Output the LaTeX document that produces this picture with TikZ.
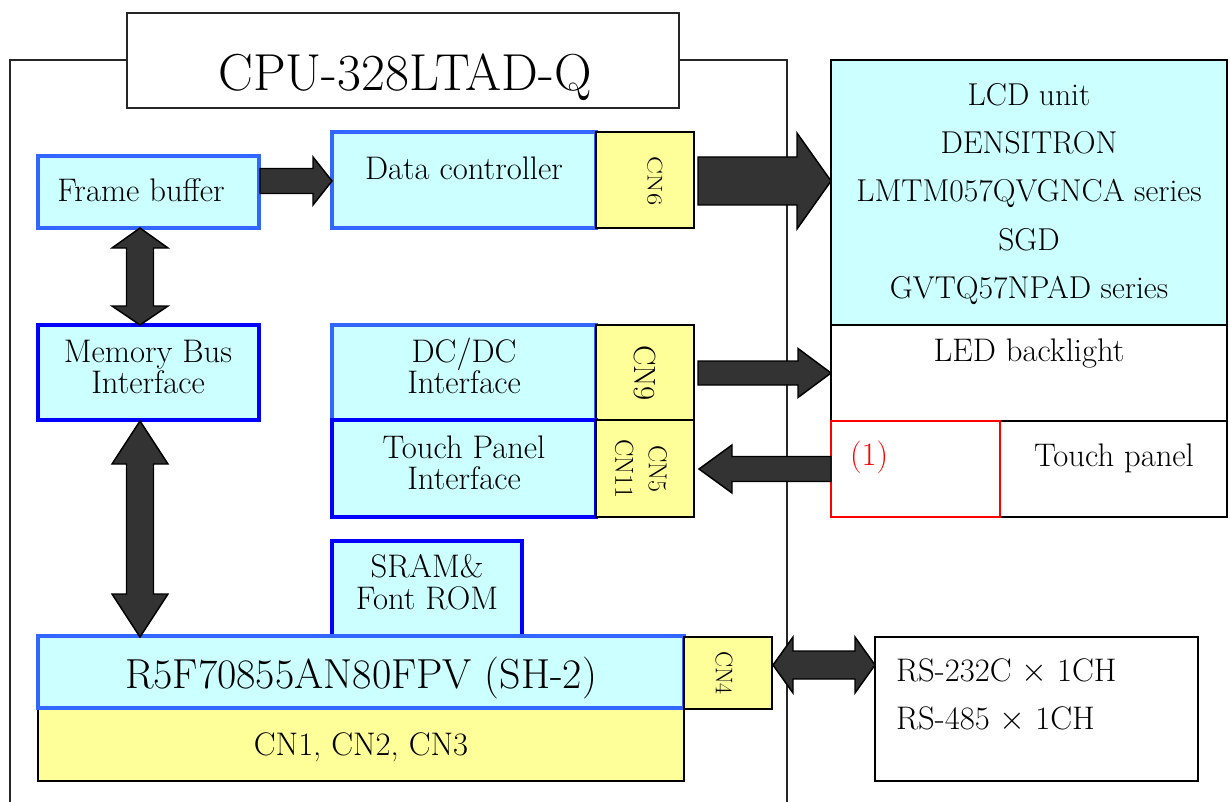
\documentclass[tikz,border=0pt]{standalone}
\usetikzlibrary{fit}
\definecolor{cyanfill}{HTML}{CCFFFF}
\definecolor{yelfill}{HTML}{FFFF99}
\definecolor{lblue}{HTML}{3366FF}
\definecolor{dblue}{HTML}{0000FF}
\definecolor{arrfill}{HTML}{333333}
\definecolor{framecol}{HTML}{262626}
\newcommand\rarr[6]{\draw[blk] (#1,#3-#4) -- (#2-#6,#3-#4) -- (#2-#6,#3-#5) -- (#2,#3) -- (#2-#6,#3+#5) -- (#2-#6,#3+#4) -- (#1,#3+#4) -- cycle;}
\newcommand\larr[6]{\draw[blk] (#2,#3-#4) -- (#1+#6,#3-#4) -- (#1+#6,#3-#5) -- (#1,#3) -- (#1+#6,#3+#5) -- (#1+#6,#3+#4) -- (#2,#3+#4) -- cycle;}
\newcommand\hdarr[6]{\draw[blk] (#1,#3) -- (#1+#6,#3-#5) -- (#1+#6,#3-#4) -- (#2-#6,#3-#4) -- (#2-#6,#3-#5) -- (#2,#3) -- (#2-#6,#3+#5) -- (#2-#6,#3+#4) -- (#1+#6,#3+#4) -- (#1+#6,#3+#5) -- cycle;}
% vertical double arrow: #1 x, #2 top, #3 bottom, #4 shaft half, #5 head half, #6 head len top, #7 head len bottom
\newcommand\vdarr[7]{\draw[blk] (#1,#2) -- (#1+#5,#2+#6) -- (#1+#4,#2+#6) -- (#1+#4,#3-#7) -- (#1+#5,#3-#7) -- (#1,#3) -- (#1-#5,#3-#7) -- (#1-#4,#3-#7) -- (#1-#4,#2+#6) -- (#1-#5,#2+#6) -- cycle;}
\begin{document}
\begin{tikzpicture}[x=0.75pt,y=-0.75pt,
  every node/.style={inner sep=0pt, outer sep=0pt},
  body/.style={font=\fontsize{24.5}{26}\selectfont, anchor=base},
  lcdt/.style={font=\fontsize{23.7}{26}\selectfont, anchor=base},
  cbox/.style={draw=lblue, fill=cyanfill, line width=2.6pt},
  cboxd/.style={draw=dblue, fill=cyanfill, line width=2.6pt},
  ybox/.style={draw=black, fill=yelfill, line width=1.1pt},
  wbox/.style={draw=black, fill=white, line width=1.3pt},
  blk/.style={draw=black, fill=arrfill, line width=1.1pt, line join=miter},
  cnlab/.style={rotate=-90, anchor=center, align=center},
  framel/.style={draw=framecol, line width=1.4pt}
]
\useasboundingbox (0,0) rectangle (1230,802);
% CPU board outline
\draw[framel] (127,60) -- (10,60) -- (10,805);
\draw[framel] (679,60) -- (787,60) -- (787,805);
\node[draw=framecol, fill=white, line width=1.4pt, fit={(127,13)(679,108)}] (title) {};
\node[font=\fontsize{39}{42}\selectfont, anchor=base] (titletxt) at (405,91) {CPU-328LTAD-Q};

% left column
\node[cbox, fit={(38,156)(259,228)}] (fb) {};
\node[body] at (141,202) {Frame buffer};
\node[cboxd, fit={(38,325)(259,420)}] (mb) {};
\node[body] at (148,362) {Memory Bus};
\node[body] at (148,393) {Interface};

% data controller + CN6
\node[cbox, fit={(332,132)(596,228)}] (dc) {};
\node[body] at (464,180) {Data controller};
\node[ybox, fit={(596,132)(694,228)}] (cn6) {};
\node[cnlab, font=\fontsize{20}{22}\selectfont] at (655,181) {\scalebox{1}[0.8]{CN6}};

% DC/DC + CN9
\node[cbox, fit={(332,325)(596,420)}] (dcdc) {};
\node[body] at (464,362) {DC/DC};
\node[body] at (464,393) {Interface};
\node[ybox, fit={(596,325)(694,420)}] (cn9) {};
\node[cnlab, font=\fontsize{23}{25}\selectfont] at (645,373) {CN9};

% Touch panel interface + CN5/CN11
\node[cboxd, fit={(332,420)(596,517)}] (tpi) {};
\node[body] at (464,458) {Touch Panel};
\node[body] at (464,489) {Interface};
\node[ybox, fit={(596,420)(694,517)}] (cn5) {};
\node[cnlab, font=\fontsize{19.5}{25}\selectfont] at (641,469) {CN5\\CN11};

% SRAM
\node[cboxd, fit={(332,541)(522,636)}] (sram) {};
\node[body] at (427,577) {SRAM\&};
\node[body] at (427,609) {Font ROM};

% CPU
\node[ybox, fit={(38,708)(684,781)}] (cn1) {};
\node[body] at (361,755) {CN1, CN2, CN3};
\node[cbox, fit={(38,636)(684,708)}] (cpu) {};
\node[font=\fontsize{31.5}{34}\selectfont, anchor=base] at (361,688) {R5F70855AN80FPV (SH-2)};
\node[ybox, fit={(684,637)(772,709)}] (cn4) {};
\node[cnlab, font=\fontsize{18}{20}\selectfont] at (724,673) {CN4};

% right side
\node[draw=black, fill=cyanfill, line width=1.3pt, fit={(831,60)(1227,325)}] (lcd) {};
\node[lcdt] at (1029,106) {LCD unit};
\node[lcdt] at (1029,154) {DENSITRON};
\node[lcdt] at (1029,202) {LMTM057QVGNCA series};
\node[lcdt] at (1029,250) {SGD};
\node[lcdt] at (1029,298) {GVTQ57NPAD series};
\node[wbox, fit={(831,325)(1227,421)}] (led) {};
\node[body] at (1029,361) {LED backlight};
\node[wbox, fit={(1000,421)(1227,517)}] (tp) {};
\node[body] at (1114,466) {Touch panel};
\node[draw=red, fill=white, line width=1.1pt, fit={(831,421)(1000,517)}] (one) {};
\node[body, anchor=base west, text=red] at (850,465) {(1)};
\node[draw=black, fill=white, line width=1.1pt, fit={(875,637)(1198,781)}] (rs) {};
\node[body, anchor=base west] at (896,681) {RS-232C $\times$ 1CH};
\node[body, anchor=base west] at (896,729) {RS-485 $\times$ 1CH};

% block arrows
\rarr{260}{332}{181}{12.5}{24}{19}
\rarr{698}{831}{181}{24}{48}{34}
\rarr{698}{831}{373}{12}{24.5}{33}
\larr{699}{831}{469}{12.5}{24}{33}
\vdarr{140}{228}{325}{13.5}{28}{20}{19}
\vdarr{140}{421}{637}{13.5}{28}{43}{43}
\hdarr{773}{875}{665}{14}{28}{20}
\end{tikzpicture}
\end{document}
